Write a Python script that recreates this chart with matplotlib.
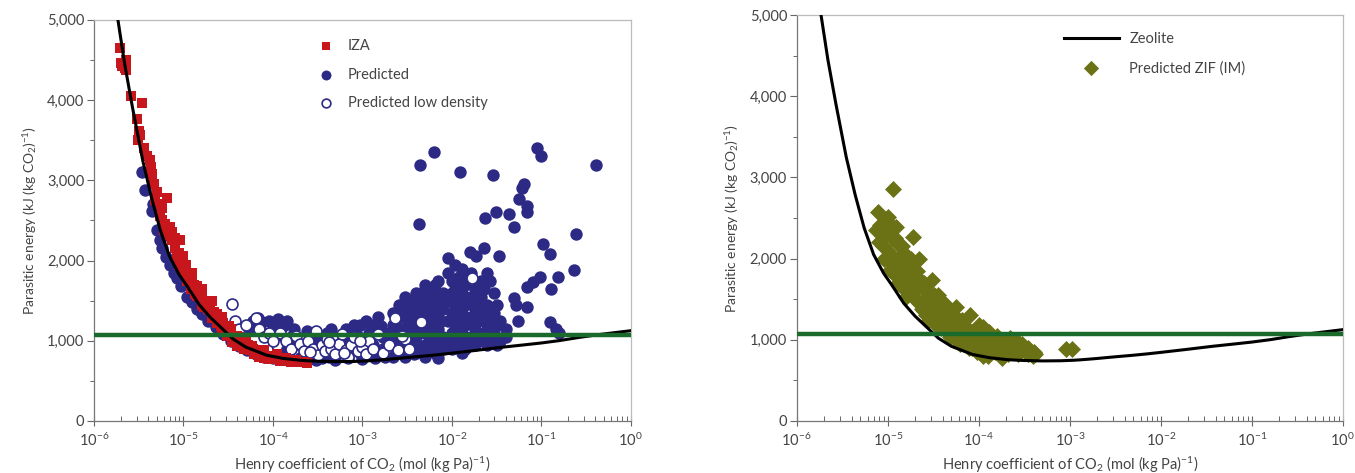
import numpy as np
import matplotlib.pyplot as plt
from matplotlib.ticker import FixedLocator, FuncFormatter, MultipleLocator, NullFormatter

plt.rcParams['font.family'] = ['Lato', 'DejaVu Sans']
plt.rcParams['mathtext.fontset'] = 'custom'
plt.rcParams['mathtext.rm'] = 'Lato'
plt.rcParams['mathtext.it'] = 'Lato:italic'

# zeolite limit curve: Henry coefficient (mol/kg/Pa) vs parasitic energy (kJ/kg CO2)
curve_k = [1.85e-6, 2.2e-6, 2.7e-6, 3.5e-6, 4.4e-6, 5.5e-6, 7e-6, 9e-6, 1.1e-5, 1.5e-5,
           2e-5, 2.6e-5, 3.6e-5, 5e-5, 8.5e-5, 1.3e-4, 2e-4, 2.5e-4, 3.2e-4, 5e-4,
           6.5e-4, 8e-4, 1.1e-3, 1.3e-3, 1.6e-3, 2e-3, 2.6e-3, 3.5e-3, 5e-3, 7e-3,
           1e-2, 1.8e-2, 3.7e-2, 6e-2, 1e-1, 1.6e-1, 2.6e-1, 4.5e-1, 1e0]
curve_e = [5000, 4450, 3900, 3250, 2780, 2380, 2050, 1820, 1680, 1450,
           1290, 1170, 1020, 920, 820, 780, 757, 750, 745, 740,
           741, 742, 748, 753, 761, 770, 782, 795, 810, 826,
           845, 878, 920, 945, 972, 1002, 1040, 1078, 1125]

# target line
target_e = 1075

iza_k = [1.95e-6, 2.0e-6, 2.05e-6, 2.3e-6, 2.25e-6, 2.2e-6, 2.6e-6, 3.45e-6, 3.05e-6, 3.2e-6,
         3.1e-6, 3.3e-6, 4.2e-6, 4.3e-6, 4.4e-6, 5.0e-6, 4.7e-6, 6.5e-6, 5.7e-6, 5.5e-6,
         6.2e-6, 6.0e-6, 7.1e-6, 6.8e-6, 7.5e-6, 8.0e-6, 9.1e-6, 8.5e-6, 9.5e-6, 1.0e-5,
         1.08e-5, 1.05e-5, 1.15e-5, 1.23e-5, 1.3e-5, 1.4e-5, 1.5e-5, 1.6e-5, 1.7e-5, 1.8e-5,
         2.0e-5, 2.0e-5, 2.2e-5, 2.35e-5, 2.5e-5, 2.8e-5, 2.6e-5, 3.0e-5, 3.3e-5, 3.6e-5,
         3.8e-5, 4.0e-5, 4.3e-5, 4.6e-5, 5.0e-5, 5.5e-5, 6.0e-5, 6.5e-5, 7.5e-5, 8.5e-5,
         1.0e-4, 1.1e-4, 1.3e-4, 1.5e-4, 1.8e-4, 2.0e-4, 2.4e-4, 1.2e-5, 1.7e-5, 2.8e-5,
         3.2e-5, 2.2e-5, 1.35e-5, 9e-6, 4.5e-5, 7e-5,
         7.5e-6, 8e-6, 8.8e-6, 1.0e-5, 1.1e-5, 1.25e-5, 1.4e-5, 1.6e-5, 1.9e-5, 2.1e-5,
         2.4e-5, 2.7e-5, 3.1e-5, 3.5e-5, 4e-5, 4.8e-5, 5.3e-5, 6.2e-5, 7e-5, 8e-5,
         9e-5, 1.2e-4, 1.6e-4, 2.2e-4, 5.2e-6, 5.8e-6, 6.6e-6, 4.8e-6, 3.6e-6, 3.9e-6,
         1.25e-5, 1.6e-5, 2.1e-5, 2.7e-5, 3.4e-5, 4.2e-5, 5.8e-5, 8e-5, 1.1e-4, 1.4e-4]
iza_e = [4650, 4460, 4420, 4500, 4380, 4400, 4050, 3960, 3760, 3610,
         3500, 3560, 3250, 3170, 3080, 2850, 2950, 2780, 2650, 2550,
         2460, 2380, 2420, 2300, 2250, 2150, 2250, 2050, 1980, 2060,
         1950, 1850, 1820, 1790, 1700, 1680, 1620, 1550, 1500, 1470,
         1460, 1380, 1360, 1330, 1260, 1220, 1180, 1130, 1100, 1050,
         1000, 1060, 960, 920, 990, 880, 900, 840, 850, 800,
         810, 770, 790, 750, 760, 730, 720, 1650, 1420, 1150,
         1180, 1300, 1580, 1940, 1010, 880,
         2350, 2280, 2100, 1900, 1750, 1700, 1560, 1450, 1400, 1280,
         1220, 1120, 1060, 980, 940, 900, 950, 830, 800, 780,
         770, 750, 740, 740, 2700, 2500, 2400, 2750, 3400, 3300,
         1850, 1650, 1500, 1300, 1150, 1050, 930, 880, 830, 790]

pred_k = [3.4e-6, 3.7e-6, 4.4e-6, 4.6e-6, 5.0e-6, 5.4e-6, 5.8e-6, 6.3e-6, 7.0e-6, 7.8e-6,
          8.5e-6, 9.5e-6, 1.1e-5, 1.25e-5, 1.4e-5, 1.6e-5, 1.9e-5, 2.3e-5, 2.8e-5, 3.4e-5,
          4.2e-5, 5.2e-5, 6.5e-5, 8e-5, 1e-4,
          5.5e-5, 6e-5, 6.8e-5, 7.5e-5, 8e-5, 9e-5, 1e-4, 1.15e-4, 1.3e-4, 1.45e-4,
          1.6e-4, 1.3e-4, 1.5e-4, 1.8e-4, 2e-4, 2.4e-4, 2.5e-4, 3e-4, 3.2e-4, 3.5e-4,
          4e-4, 4.5e-4, 5e-4, 5.5e-4, 6e-4, 7e-4, 8e-4, 8.5e-4, 9e-4, 1e-3,
          1.1e-3, 1.2e-3, 1.3e-3, 1.4e-3, 1.5e-3, 1.6e-3, 1.8e-3, 1.9e-3, 2e-3,
          7e-5, 1.1e-4, 1.1e-4, 1.7e-4, 2.2e-4, 2.8e-4, 2.8e-4, 3.8e-4, 4.2e-4, 6.5e-4,
          6.5e-4, 7.5e-4, 9.5e-4, 9.5e-4, 1.05e-3, 1.25e-3, 1.25e-3, 1.7e-3, 1.7e-3,
          2.2e-3, 2.2e-3, 2.2e-3, 2.2e-3, 2.6e-3, 2.6e-3, 2.6e-3, 3e-3, 3e-3, 3e-3,
          3e-3, 3.5e-3, 3.5e-3, 3.5e-3, 4e-3, 4e-3, 4e-3, 4e-3, 4e-3, 5e-3,
          5e-3, 5e-3, 5e-3, 5e-3, 5e-3, 6e-3, 6e-3, 6e-3, 6e-3, 6e-3,
          7e-3, 7e-3, 7e-3, 7e-3, 7e-3, 7e-3, 8e-3, 8e-3, 8e-3, 8e-3,
          9e-3, 9e-3, 9e-3, 9e-3, 1.1e-2, 1.1e-2, 1.1e-2, 1.1e-2, 1.1e-2, 1.3e-2,
          1.3e-2, 1.3e-2, 1.3e-2, 1.3e-2, 1.5e-2, 1.5e-2, 1.5e-2, 1.5e-2, 1.8e-2, 1.8e-2,
          1.8e-2, 1.8e-2, 2.1e-2, 2.1e-2, 2.1e-2, 2.1e-2, 2.5e-2, 2.5e-2, 2.5e-2, 2.5e-2,
          3e-2, 3e-2, 3e-2, 3.5e-2, 3.5e-2, 4e-2, 4e-2,
          2.4e-3, 2.4e-3, 2.4e-3, 2.8e-3, 2.8e-3, 2.8e-3, 3.2e-3, 3.2e-3, 3.2e-3,
          3.8e-3, 3.8e-3, 3.8e-3, 3.8e-3, 4.5e-3, 4.5e-3, 4.5e-3, 4.5e-3,
          5.5e-3, 5.5e-3, 5.5e-3, 5.5e-3, 6.5e-3, 6.5e-3, 6.5e-3, 6.5e-3,
          7.5e-3, 7.5e-3, 7.5e-3, 1e-2, 1e-2, 1e-2, 1e-2, 1e-2,
          1.2e-2, 1.2e-2, 1.2e-2, 1.2e-2, 1.4e-2, 1.4e-2, 1.4e-2, 1.4e-2,
          1.65e-2, 1.65e-2, 1.65e-2, 1.65e-2, 1.95e-2, 1.95e-2, 1.95e-2,
          2.3e-2, 2.3e-2, 2.3e-2, 2.7e-2, 2.7e-2, 2.7e-2, 3.2e-2, 3.2e-2, 3.2e-2,
          6.3e-3, 4.4e-3, 1.23e-2, 2.9e-2, 8.9e-2, 1.0e-1, 4.1e-1, 6.4e-2, 6.1e-2, 5.6e-2,
          6.9e-2, 7.0e-2, 5.0e-2, 4.4e-2, 3.1e-2, 2.36e-2, 4.3e-3, 2.45e-1, 1.04e-1, 1.25e-1,
          2.28e-2, 1.59e-2, 1.89e-2, 3.34e-2, 9.1e-3, 2.3e-1, 1.55e-1, 1.3e-1, 9.7e-2, 8.1e-2,
          6.9e-2, 5.0e-2, 5.2e-2, 6.9e-2, 5.5e-2, 1.25e-1, 1.47e-1, 1.6e-1]
pred_e = [3100, 2880, 2620, 2700, 2380, 2250, 2150, 2050, 1950, 1850,
          1780, 1680, 1550, 1480, 1400, 1330, 1250, 1170, 1090, 1000,
          930, 880, 840, 800, 780,
          1150, 1250, 1280, 1230, 1100, 1250, 1200, 1270, 1180, 1250,
          1050, 880, 800, 960, 780, 1120, 770, 760, 1000, 780,
          1100, 1150, 760, 900, 1000, 780, 1200, 1100, 1050, 770,
          1250, 1100, 950, 780, 1300, 1180, 800, 1000, 1100,
          1150, 1000, 850, 1150, 900, 1050, 820, 900, 800, 1150,
          850, 1000, 1200, 850, 1000, 1200, 820, 1050, 900,
          1350, 1200, 950, 800, 1450, 1100, 850, 1550, 1300, 1000,
          800, 1400, 1150, 900, 1600, 1350, 1250, 1050, 850, 1700,
          1500, 1300, 1100, 950, 800, 1650, 1450, 1200, 1000, 870,
          1750, 1550, 1350, 1150, 950, 780, 1600, 1400, 1050, 900,
          1850, 1500, 1250, 1000, 1950, 1700, 1450, 1150, 950, 1900,
          1600, 1350, 1100, 850, 1800, 1500, 1250, 1000, 1650, 1400,
          1150, 950, 1750, 1550, 1300, 1050, 1850, 1450, 1200, 950,
          1600, 1350, 1100, 1250, 1000, 1050, 1150,
          1250, 1000, 880, 1380, 1150, 920, 1450, 1250, 900,
          1500, 1200, 1000, 830, 1600, 1400, 1150, 900,
          1550, 1350, 1050, 880, 1700, 1300, 1100, 850,
          1450, 1250, 1000, 1750, 1600, 1350, 1100, 900,
          1800, 1550, 1250, 1000, 1700, 1450, 1200, 900,
          1850, 1550, 1300, 1050, 1500, 1250, 1000,
          1650, 1400, 1100, 1750, 1300, 1000, 1450, 1200, 950,
          3350, 3190, 3100, 3060, 3400, 3300, 3190, 2960, 2900, 2770,
          2680, 2600, 2420, 2580, 2600, 2530, 2450, 2330, 2200, 2080,
          2160, 2110, 2060, 2060, 2030, 1880, 1790, 1650, 1790, 1730,
          1675, 1530, 1440, 1420, 1250, 1230, 1150, 1100]

lowd_k = [3.5e-5, 3.8e-5, 4.2e-5, 5e-5, 6.5e-5, 7e-5, 8e-5, 9e-5, 1.1e-4, 1.2e-4,
          1.4e-4, 1.6e-4, 1.8e-4, 2e-4, 2.2e-4, 2.5e-4, 2.8e-4, 3e-4, 3.2e-4, 3.5e-4,
          3.8e-4, 4e-4, 4.5e-4, 5e-4, 5.5e-4, 6e-4, 6.5e-4, 7e-4, 7.5e-4, 8e-4,
          9e-4, 1e-3, 1.1e-3, 1.2e-3, 1.3e-3, 1.5e-3, 1.7e-3, 2e-3, 2.3e-3, 2.5e-3,
          3e-3, 3.3e-3, 4.5e-3, 1.7e-2, 2.8e-3, 1.0e-4, 2.6e-4, 4.2e-4, 6.2e-4, 9.5e-4]
lowd_e = [1460, 1250, 1150, 1200, 1280, 1150, 1050, 1100, 950, 1100,
          1000, 900, 1060, 960, 870, 1000, 900, 1120, 820, 950,
          870, 1020, 900, 830, 960, 1080, 880, 800, 950, 1050,
          870, 920, 830, 1000, 900, 1080, 850, 950, 1280, 880,
          1020, 900, 1230, 1780, 1060, 1000, 860, 980, 850, 1000]

zif_k = [1.14e-5, 7.8e-6, 1.0e-5, 7.5e-6, 1.23e-5, 8.8e-6, 2.2e-5, 8.2e-6, 9.5e-6, 1.1e-5,
         1.05e-5, 1.3e-5, 1.4e-5, 1.2e-5, 1.6e-5, 1.5e-5, 1.88e-5, 1.7e-5, 1.8e-5, 2.0e-5,
         2.1e-5, 2.3e-5, 2.5e-5, 2.4e-5, 2.7e-5, 2.85e-5, 3.1e-5, 3.0e-5, 3.4e-5, 3.6e-5,
         3.8e-5, 4.2e-5, 4.0e-5, 4.5e-5, 4.8e-5, 5.2e-5, 5.6e-5, 5.4e-5, 6.0e-5, 6.5e-5,
         7.0e-5, 7.5e-5, 8.0e-5, 8.5e-5, 9.0e-5, 1.0e-4, 1.1e-4, 1.05e-4, 1.2e-4, 1.3e-4,
         1.4e-4, 1.5e-4, 1.6e-4, 1.8e-4, 2.0e-4, 2.2e-4, 2.55e-4, 2.4e-4, 2.8e-4, 3.0e-4,
         3.3e-4, 3.6e-4, 4.2e-4, 3.9e-4, 1.1e-4, 1.6e-4, 9.0e-4, 1.05e-3, 2.6e-5, 3.3e-5,
         6.2e-5, 9.5e-5, 1.25e-4, 1.9e-4, 2.7e-4, 1.7e-5, 1.35e-5, 4.6e-5, 7.8e-5, 1.7e-4,
         8e-6, 9e-6, 9e-6, 1.0e-5, 1.0e-5, 1.1e-5, 1.1e-5, 1.2e-5, 1.2e-5, 1.3e-5,
         1.3e-5, 1.45e-5, 1.45e-5, 1.45e-5, 1.6e-5, 1.6e-5, 1.8e-5, 1.8e-5, 2.0e-5, 2.0e-5,
         2.2e-5, 2.2e-5, 2.5e-5, 2.5e-5, 2.8e-5, 3.2e-5, 3.2e-5, 3.6e-5, 3.6e-5, 4e-5,
         4e-5, 4.5e-5, 5e-5, 5e-5, 5.8e-5, 5.8e-5, 6.8e-5, 6.8e-5, 7.5e-5, 8.5e-5,
         8.5e-5, 1e-4, 1e-4, 1.15e-4, 1.3e-4, 1.3e-4, 1.5e-4, 1.8e-4, 2.1e-4, 2.1e-4,
         2.5e-4, 3e-4, 3.5e-4, 3.5e-4, 4e-4]
zif_e = [2860, 2570, 2510, 2350, 2390, 2150, 2000, 2420, 2300, 2250,
         1860, 2180, 2050, 1980, 1530, 1900, 2270, 1750, 2000, 1600,
         1850, 1700, 1500, 1380, 1600, 1240, 1740, 1450, 1300, 1550,
         1150, 1450, 1250, 1350, 1040, 1180, 1410, 1300, 1100, 1250,
         1000, 1150, 1300, 950, 1080, 1180, 1160, 1000, 900, 1100,
         1000, 850, 1050, 780, 950, 1020, 1000, 850, 900, 950,
         850, 880, 830, 800, 800, 900, 890, 890, 1300, 1200,
         950, 850, 800, 880, 820, 1650, 1750, 1100, 900, 950,
         2200, 2450, 2000, 2350, 2100, 2400, 1950, 2250, 1800, 1950,
         1700, 2150, 1850, 1650, 2050, 1700, 1900, 1600, 1850, 1500,
         1750, 1450, 1700, 1350, 1500, 1550, 1300, 1400, 1200, 1450,
         1150, 1250, 1300, 1100, 1200, 1000, 1150, 950, 1050, 1100,
         900, 1050, 850, 950, 1000, 850, 950, 900, 950, 820,
         900, 880, 900, 820, 850]

decades = [1e-6, 1e-5, 1e-4, 1e-3, 1e-2, 1e-1, 1e0]
minor_k = [m * d for d in decades[:-1] for m in range(2, 10)]

navy = '#2c2a85'
red = '#c8161d'
olive = '#6b7215'
green = '#1a6b2b'
txt = '#444444'

fig = plt.figure(figsize=(13.55, 4.73), dpi=100)
ax1 = fig.add_axes([0.0694, 0.110, 0.396, 0.848])
ax2 = fig.add_axes([0.588, 0.110, 0.403, 0.858])

ax1.scatter(pred_k, pred_e, s=80, marker='o', color=navy, lw=0, zorder=2, label='Predicted')
ax1.scatter(lowd_k, lowd_e, s=62, marker='o', facecolor='white', edgecolor=navy, lw=1.2,
            zorder=3, label='Predicted low density')
ax1.scatter(iza_k, iza_e, s=58, marker='s', color=red, lw=0, zorder=4, label='IZA')
ax1.plot(curve_k, curve_e, color='black', lw=2.2, zorder=5)
ax1.axhline(target_e, color=green, lw=3.2, zorder=6)

ax2.scatter(zif_k, zif_e, s=75, marker='D', color=olive, lw=0, zorder=2,
            label='Predicted ZIF (IM)')
ax2.plot(curve_k, curve_e, color='black', lw=2.2, zorder=3, label='Zeolite')
ax2.axhline(target_e, color=green, lw=3.2, zorder=4)

for ax in (ax1, ax2):
    ax.set_xscale('log')
    ax.set_xlim(1e-6, 1e0)
    ax.set_ylim(0, 5000)
    ax.xaxis.set_major_locator(FixedLocator(decades))
    ax.xaxis.set_minor_locator(FixedLocator(minor_k))
    ax.xaxis.set_minor_formatter(NullFormatter())
    ax.yaxis.set_major_locator(MultipleLocator(1000))
    ax.yaxis.set_minor_locator(MultipleLocator(500))
    ax.yaxis.set_major_formatter(FuncFormatter(lambda v, p: f'{v:,.0f}'))
    ax.tick_params(axis='x', which='major', direction='inout', length=7, width=0.8,
                   colors='#666666', labelcolor=txt, labelsize=10.5, pad=4)
    ax.tick_params(axis='x', which='minor', direction='in', length=3.5, width=0.7,
                   colors='#666666')
    ax.tick_params(axis='y', which='major', direction='out', length=5, width=0.8,
                   colors='#666666', labelcolor=txt, labelsize=10.5, pad=2)
    ax.tick_params(axis='y', which='minor', direction='out', length=3, width=0.7,
                   colors='#666666')
    for side in ('left', 'bottom'):
        ax.spines[side].set_color('#777777')
        ax.spines[side].set_linewidth(0.9)
    for side in ('top', 'right'):
        ax.spines[side].set_color('#bbbbbb')
        ax.spines[side].set_linewidth(0.9)
    ax.set_xlabel('Henry coefficient of CO$_2$ (mol (kg Pa)$^{-1}$)', color=txt,
                  fontsize=10.5, labelpad=4)
    ax.set_ylabel('Parasitic energy (kJ (kg CO$_2$)$^{-1}$)', color=txt, fontsize=10,
                  labelpad=6)

h, l = ax1.get_legend_handles_labels()
order = [l.index('IZA'), l.index('Predicted'), l.index('Predicted low density')]
ax1.legend([h[i] for i in order], [l[i] for i in order], loc='upper left',
           bbox_to_anchor=(0.38, 0.985), frameon=False, fontsize=10.5,
           labelspacing=1.0, handletextpad=0.5, labelcolor=txt, markerscale=0.8)

h, l = ax2.get_legend_handles_labels()
order = [l.index('Zeolite'), l.index('Predicted ZIF (IM)')]
ax2.legend([h[i] for i in order], [l[i] for i in order], loc='upper left',
           bbox_to_anchor=(0.465, 0.99), frameon=False, fontsize=10.5,
           labelspacing=1.0, handlelength=3.8, handletextpad=0.7, labelcolor=txt,
           markerscale=0.9)

fig.savefig('out.png', dpi=100)
